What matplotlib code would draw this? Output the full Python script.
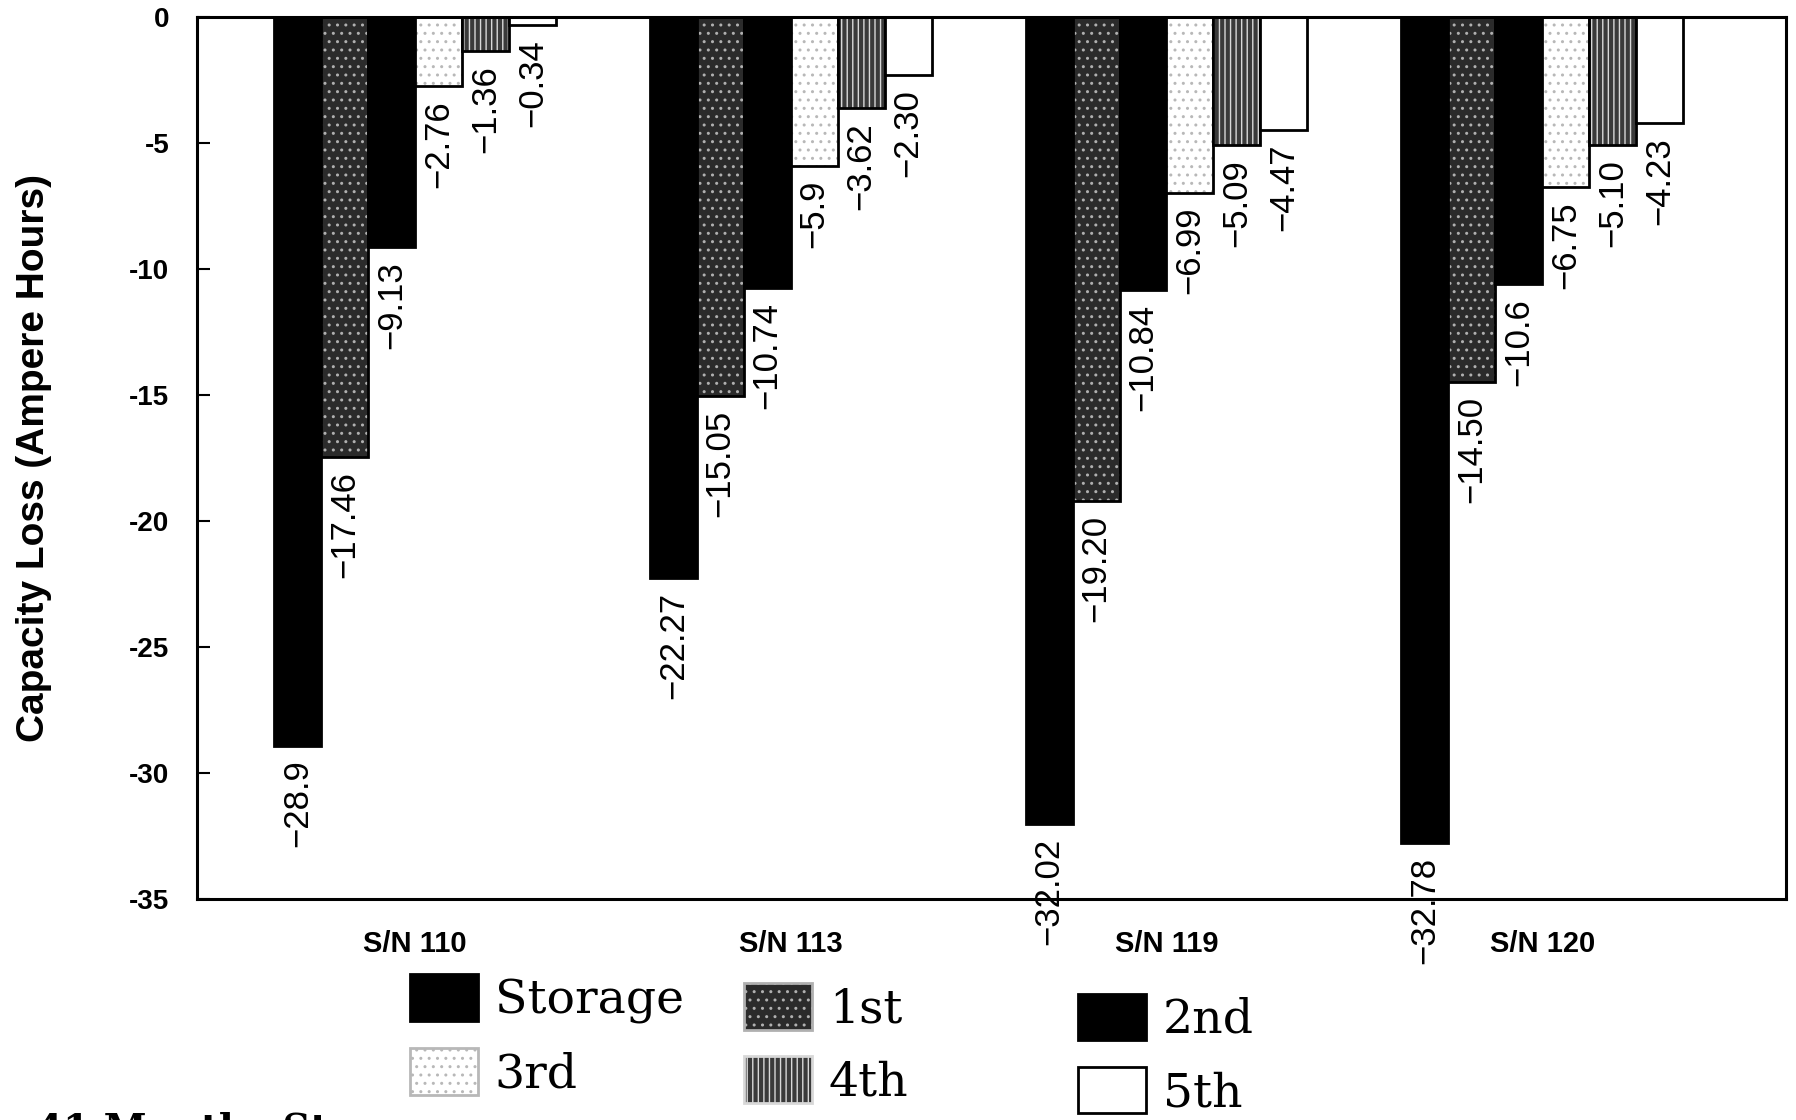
import numpy as np
import matplotlib
matplotlib.use("Agg")
import matplotlib.pyplot as plt
from matplotlib.patches import Patch

# data (capacity loss, ampere hours)
units = ["S/N 110", "S/N 113", "S/N 119", "S/N 120"]
series = ["Storage", "1st", "2nd", "3rd", "4th", "5th"]
storage = ["-28.9", "-22.27", "-32.02", "-32.78"]
first = ["-17.46", "-15.05", "-19.20", "-14.50"]
second = ["-9.13", "-10.74", "-10.84", "-10.6"]
third = ["-2.76", "-5.9", "-6.99", "-6.75"]
fourth = ["-1.36", "-3.62", "-5.09", "-5.10"]
fifth = ["-0.34", "-2.30", "-4.47", "-4.23"]
all_vals = [storage, first, second, third, fourth, fifth]

# face colour, hatch, hatch colour for each series
styles = [
    ("black", None, "black"),
    ("#2b2b2b", "..", "#b0b0b0"),
    ("black", None, "black"),
    ("white", "..", "#b8b8b8"),
    ("#3a3a3a", "|||", "#d8d8d8"),
    ("white", None, "white"),
]

sans = "Liberation Sans"
serif = "DejaVu Serif"

fig = plt.figure(figsize=(17.96, 11.2), dpi=100)
ax = fig.add_axes([0.1097, 0.197, 0.885, 0.788])

x = np.arange(len(units))
w = 0.125
for i, vals in enumerate(all_vals):
    nums = [float(v) for v in vals]
    pos = x + (i - 2.5) * w
    fc, hatch, hc = styles[i]
    ax.bar(pos, nums, w, color=fc, hatch=hatch, edgecolor=hc, linewidth=0, align="center")
    ax.bar(pos, nums, w, fill=False, edgecolor="black", linewidth=2.0, align="center")
    for p, n, s in zip(pos, nums, vals):
        ax.annotate(s.replace("-", "\u2212"), (p, n), xytext=(0, -10), textcoords="offset points",
                    rotation=90, ha="center", va="top", fontsize=25, family=sans)

ax.set_xlim(-0.58, 3.65)
ax.set_ylim(-35, 0)
ax.set_yticks(np.arange(0, -36, -5))
ax.set_yticklabels([str(t) for t in range(0, -36, -5)], fontsize=20, fontweight="bold", family=sans)
ax.tick_params(axis="y", direction="in", length=9, width=1.5, pad=20)
ax.set_xticks(x)
ax.set_xticklabels(units, fontsize=21, fontweight="bold", family=sans)
ax.tick_params(axis="x", length=0, pad=22)
for sp in ax.spines.values():
    sp.set_linewidth(2.2)

ax.set_ylabel("Capacity Loss (Ampere Hours)", fontsize=28, fontweight="bold", family=sans)
ax.yaxis.set_label_coords(-0.091, 0.5)

# legend: three columns placed separately like the original
def handle(i):
    fc, hatch, hc = styles[i]
    return Patch(facecolor=fc, hatch=hatch, edgecolor="black" if hatch is None else hc, linewidth=2)

cols = [(0, 3, 0.215, 0.151), (1, 4, 0.401, 0.143), (2, 5, 0.587, 0.134)]
for a, b, lx, ly in cols:
    leg = fig.legend([handle(a), handle(b)], [series[a], series[b]], loc="upper left",
                     bbox_to_anchor=(lx, ly), frameon=False, borderpad=0,
                     handlelength=1.45, handleheight=1.15, handletextpad=0.35,
                     labelspacing=0.5, prop={"family": serif, "size": 34})

fig.text(0.5, 1.004, "at 35\u00b0C", ha="center", va="bottom", fontsize=30, fontweight="bold", family=sans)
fig.text(0.02, 0.008, "41 Months Storage", ha="left", va="top", fontsize=28, fontweight="bold", family=serif)

fig.savefig("out.png", dpi=100)
